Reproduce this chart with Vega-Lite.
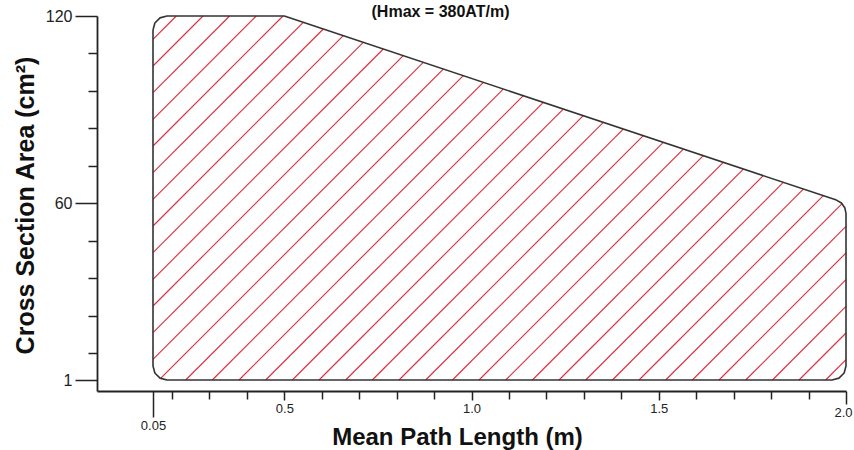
{
  "$schema": "https://vega.github.io/schema/vega-lite/v6.json",
  "width": 749,
  "height": 375,
  "autosize": "none",
  "padding": {"left": 97, "top": 16, "right": 8, "bottom": 59},
  "background": "white",
  "config": {"view": {"stroke": null}, "font": "Liberation Sans"},
  "title": {
    "text": "(Hmax = 380AT/m)",
    "font": "Liberation Sans",
    "fontSize": 16,
    "fontWeight": "bold",
    "color": "#111",
    "anchor": "middle",
    "frame": "group",
    "dx": -31,
    "dy": 26,
    "baseline": "alphabetic",
    "offset": 1
  },
  "layer": [
    {
      "data": {"values": [
        {"xa": 0.05, "ya": 112.53, "xb": 0.2115, "yb": 120},
        {"xa": 0.05, "ya": 103.98, "xb": 0.2828, "yb": 120},
        {"xa": 0.05, "ya": 95.45, "xb": 0.3538, "yb": 120},
        {"xa": 0.05, "ya": 86.89, "xb": 0.4251, "yb": 120},
        {"xa": 0.05, "ya": 78.34, "xb": 0.4964, "yb": 120},
        {"xa": 0.05, "ya": 69.81, "xb": 0.5506, "yb": 117.97},
        {"xa": 0.05, "ya": 61.26, "xb": 0.6041, "yb": 115.83},
        {"xa": 0.05, "ya": 52.70, "xb": 0.6575, "yb": 113.69},
        {"xa": 0.05, "ya": 44.18, "xb": 0.7108, "yb": 111.56},
        {"xa": 0.05, "ya": 35.62, "xb": 0.7643, "yb": 109.42},
        {"xa": 0.05, "ya": 27.06, "xb": 0.8177, "yb": 107.28},
        {"xa": 0.05, "ya": 18.51, "xb": 0.8712, "yb": 105.14},
        {"xa": 0.05, "ya": 9.43, "xb": 0.9245, "yb": 103.01},
        {"xa": 0.110, "ya": 1.65, "xb": 0.9780, "yb": 100.87},
        {"xa": 0.2366, "ya": 1, "xb": 1.0315, "yb": 98.73},
        {"xa": 0.3076, "ya": 1, "xb": 1.0847, "yb": 96.60},
        {"xa": 0.3789, "ya": 1, "xb": 1.1382, "yb": 94.46},
        {"xa": 0.4502, "ya": 1, "xb": 1.1917, "yb": 92.32},
        {"xa": 0.5213, "ya": 1, "xb": 1.2450, "yb": 90.19},
        {"xa": 0.5926, "ya": 1, "xb": 1.2984, "yb": 88.05},
        {"xa": 0.6639, "ya": 1, "xb": 1.3519, "yb": 85.91},
        {"xa": 0.7349, "ya": 1, "xb": 1.4052, "yb": 83.78},
        {"xa": 0.8062, "ya": 1, "xb": 1.4587, "yb": 81.64},
        {"xa": 0.8775, "ya": 1, "xb": 1.5121, "yb": 79.50},
        {"xa": 0.9489, "ya": 1, "xb": 1.5656, "yb": 77.36},
        {"xa": 1.0199, "ya": 1, "xb": 1.6189, "yb": 75.23},
        {"xa": 1.0912, "ya": 1, "xb": 1.6723, "yb": 73.09},
        {"xa": 1.1625, "ya": 1, "xb": 1.7259, "yb": 70.95},
        {"xa": 1.2336, "ya": 1, "xb": 1.7791, "yb": 68.82},
        {"xa": 1.3049, "ya": 1, "xb": 1.8326, "yb": 66.68},
        {"xa": 1.3762, "ya": 1, "xb": 1.8861, "yb": 64.54},
        {"xa": 1.4472, "ya": 1, "xb": 1.9394, "yb": 62.40},
        {"xa": 1.5185, "ya": 1, "xb": 1.9896, "yb": 59.85},
        {"xa": 1.5898, "ya": 1, "xb": 2.0, "yb": 52.57},
        {"xa": 1.6609, "ya": 1, "xb": 2.0, "yb": 44.05},
        {"xa": 1.7322, "ya": 1, "xb": 2.0, "yb": 35.49},
        {"xa": 1.8035, "ya": 1, "xb": 2.0, "yb": 26.93},
        {"xa": 1.8745, "ya": 1, "xb": 2.0, "yb": 18.41},
        {"xa": 1.9458, "ya": 1, "xb": 2.0, "yb": 9.27}
      ]},
      "mark": {"type": "rule", "color": "#e02a36", "strokeWidth": 1.1},
      "encoding": {
        "x": {
          "field": "xa",
          "type": "quantitative",
          "scale": {"domain": [0, 0.05, 0.2, 2.0], "range": [0, 56, 75, 749], "nice": false, "zero": false},
          "axis": {
            "values": [0.05, 0.2, 0.3, 0.4, 0.5, 0.6, 0.7, 0.8, 0.9, 1.0, 1.1, 1.2, 1.3, 1.4, 1.5, 1.6, 1.7, 1.8, 1.9, 2.0],
            "tickCount": 100,
            "labelExpr": "datum.value == 0.05 ? '0.05' : (datum.value == 0.5 || datum.value == 1 || datum.value == 1.5 || datum.value == 2) ? format(datum.value, '.1f') : ''",
            "grid": false,
            "domainColor": "#222",
            "domainWidth": 1.8,
            "tickColor": "#222",
            "tickWidth": 1.5,
            "tickSize": {"condition": [
              {"test": "datum.value == 0.05", "value": 26},
              {"test": "datum.value == 2", "value": 13},
              {"test": "datum.value == 0.5 || datum.value == 1 || datum.value == 1.5", "value": 9}
            ], "value": 8},
            "labelOffset": {"condition": {"test": "datum.value == 2", "value": -3}, "value": 0},
            "labelPadding": 2,
            "labelFont": "Liberation Sans",
            "labelFontSize": 13,
            "labelColor": "#222",
            "labelOverlap": false,
            "labelFlush": false,
            "labelBound": false,
            "title": "Mean Path Length (m)",
            "titleFont": "Liberation Sans",
            "titleFontSize": 24,
            "titleFontWeight": "bold",
            "titleColor": "#111",
            "titleX": 360,
            "titleY": 53,
            "titleAlign": "center",
            "titleBaseline": "alphabetic"
          }
        },
        "y": {
          "field": "ya",
          "type": "quantitative",
          "scale": {"domain": [0, 1, 12, 120], "range": [375, 364, 337, 0], "nice": false, "zero": false},
          "axis": {
            "values": [1, 12, 24, 36, 48, 60, 72, 84, 96, 108, 120],
            "tickCount": 100,
            "labelExpr": "(datum.value == 1 || datum.value == 60 || datum.value == 120) ? datum.label : ''",
            "grid": false,
            "domainColor": "#222",
            "domainWidth": 1.8,
            "tickColor": "#222",
            "tickWidth": 1.5,
            "tickSize": {"condition": {"test": "datum.value == 1 || datum.value == 60 || datum.value == 120", "value": 22}, "value": 9},
            "labelPadding": 3,
            "labelFont": "Liberation Sans",
            "labelFontSize": 16,
            "labelColor": "#222",
            "labelOverlap": false,
            "labelFlush": false,
            "labelBound": false,
            "title": "Cross Section Area (cm²)",
            "titleFont": "Liberation Sans",
            "titleFontSize": 25,
            "titleFontWeight": "bold",
            "titleColor": "#111",
            "titleAngle": 270,
            "titleX": -64,
            "titleY": 189,
            "titleAlign": "center",
            "titleBaseline": "alphabetic"
          }
        },
        "x2": {"field": "xb"},
        "y2": {"field": "yb"}
      }
    },
    {
      "data": {"values": [
        {"i": 1, "x": 0.05, "y": 115.51},
        {"i": 2, "x": 0.0648, "y": 117.76},
        {"i": 3, "x": 0.1053, "y": 119.40},
        {"i": 4, "x": 0.1605, "y": 120},
        {"i": 5, "x": 0.5, "y": 120},
        {"i": 6, "x": 1.9745, "y": 61.00},
        {"i": 7, "x": 1.9878, "y": 60.06},
        {"i": 8, "x": 1.9968, "y": 58.56},
        {"i": 9, "x": 2.0, "y": 56.74},
        {"i": 10, "x": 2.0, "y": 6.70},
        {"i": 11, "x": 1.9950, "y": 3.85},
        {"i": 12, "x": 1.9813, "y": 1.77},
        {"i": 13, "x": 1.9626, "y": 1},
        {"i": 14, "x": 0.1605, "y": 1},
        {"i": 15, "x": 0.1053, "y": 1.77},
        {"i": 16, "x": 0.0648, "y": 3.85},
        {"i": 17, "x": 0.05, "y": 6.70},
        {"i": 18, "x": 0.05, "y": 115.51}
      ]},
      "mark": {"type": "line", "color": "#333", "strokeWidth": 1.6, "strokeJoin": "round"},
      "encoding": {
        "x": {"field": "x", "type": "quantitative"},
        "y": {"field": "y", "type": "quantitative"},
        "order": {"field": "i", "type": "quantitative"}
      }
    }
  ]
}
